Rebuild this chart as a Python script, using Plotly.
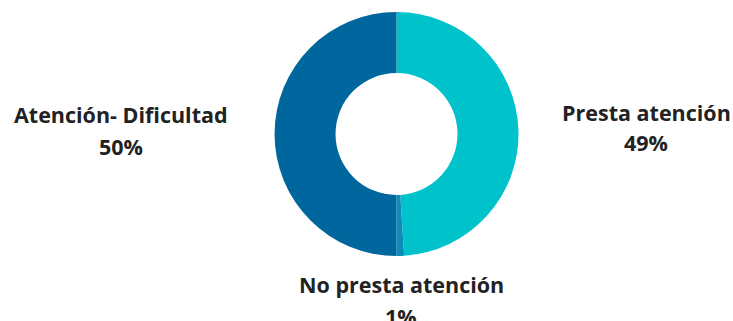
import plotly.graph_objects as go

# data
labels = ["Presta atención", "No presta atención", "Atención- Dificultad"]
values = [49, 1, 50]
colors = ["#00C2CB", "#0A8DB8", "#00679E"]

W, H = 733, 321

# where each label sits (pixel centres of name line / percent line)
label_pos = {
    "Presta atención": (646, 112, 143),
    "No presta atención": (401, 284, 316),
    "Atención- Dificultad": (121, 115, 147),
}

fig = go.Figure()
fig.add_trace(go.Pie(
    labels=labels,
    values=values,
    hole=0.5,
    sort=False,
    direction="clockwise",
    rotation=0,
    marker=dict(colors=colors, line=dict(width=0)),
    textinfo="none",
    showlegend=False,
    domain=dict(x=[(396.5 - 122) / W, (396.5 + 122) / W],
                y=[(H - 134 - 122) / H, (H - 134 + 122) / H]),
))

total = sum(values)
for lab, val in zip(labels, values):
    px, y1, y2 = label_pos[lab]
    pct = f"{round(val / total * 100)}%"
    for txt, py in ((lab, y1), (pct, y2)):
        fig.add_annotation(
            x=px / W, y=1 - py / H, xref="paper", yref="paper",
            text=f"<b>{txt}</b>", showarrow=False,
            xanchor="center", yanchor="middle",
            font=dict(family="Open Sans", size=21.5, color="#222222"),
        )

fig.update_layout(
    width=W, height=H,
    margin=dict(l=0, r=0, t=0, b=0),
    paper_bgcolor="white",
    plot_bgcolor="white",
)

# drop the browser's default 8px body margin so the figure sits at 0,0
fig.write_html("out.html", config={"displayModeBar": False},
               post_script="document.body.style.margin='0';")
